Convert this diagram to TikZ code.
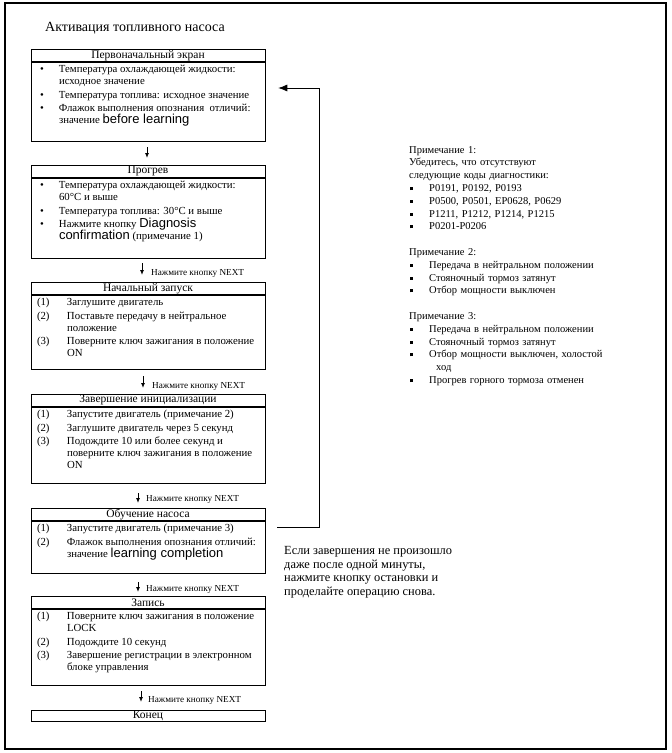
\documentclass[tikz,border=0pt]{standalone}
\usepackage{fontspec}
\setmainfont{Liberation Serif}
\newfontfamily\arl{Liberation Sans}
\usetikzlibrary{positioning,arrows.meta}
\newcommand{\en}[1]{{\arl\fontsize{13}{12}\selectfont #1}}
\newcommand{\bl}[1]{\par\noindent\hangindent=28pt\hangafter=1\makebox[28pt][l]{\hspace{9pt}\textbullet}#1}
\newcommand{\nm}[2]{\par\noindent\hangindent=36pt\hangafter=1\makebox[36pt][l]{\hspace{6pt}(#1)}#2}
\newcommand{\sq}[1]{\par\noindent\hangindent=20pt\hangafter=1\makebox[20pt][l]{\hspace{1pt}\rule[1.5pt]{3pt}{3pt}}#1}
\newcommand{\inbox}[2]{\parbox[t][#1][t]{234pt}{\raggedright\fontsize{10.8}{12}\selectfont
  \lineskiplimit=-20pt\parskip=1.5pt\vspace*{2pt}#2}}
\tikzset{
  head/.style ={draw, line width=.6pt, inner sep=0pt, minimum width=234pt, minimum height=12pt,
                anchor=north, font=\fontsize{11.5}{12}\selectfont},
  body/.style ={draw, line width=.6pt, inner sep=0pt, anchor=north},
  ln/.style   ={line width=.9pt, -{Latex[length=5pt,width=4pt]}},
  back/.style ={line width=.7pt, -{Latex[length=9pt,width=7pt]}},
  tag/.style  ={anchor=west, inner sep=0pt, font=\fontsize{9.2}{10}\selectfont},
  note/.style ={anchor=north west, inner sep=0pt, align=left},
}
\begin{document}
\begin{tikzpicture}[x=1pt,y=-1pt]
  \useasboundingbox (0,0) rectangle (672,753);
  \draw[line width=1.2pt] (5,3) rectangle (666,749);
  \node[anchor=west, inner sep=0pt, font=\fontsize{14}{16}\selectfont] (t0) at (45,28)
    {Активация топливного насоса};

  \node[head] (h1) at (148,49) {Первоначальный экран};
  \node[body] (b1) at (h1.south) {\inbox{79pt}{%
    \bl{Температура охлаждающей жидкости:\newline исходное значение}
    \bl{Температура топлива: исходное значение}
    \bl{Флажок выполнения опознания~ отличий:\newline значение \en{before learning}}}};

  \node[head] (h2) at (148,165) {Прогрев};
  \node[body] (b2) at (h2.south) {\inbox{80pt}{%
    \bl{Температура охлаждающей жидкости:\newline 60°C и выше}
    \bl{Температура топлива: 30°C и выше}
    \bl{Нажмите кнопку \en{Diagnosis}\newline \en{confirmation} (примечание 1)}}};

  \node[head] (h3) at (148,282) {Начальный запуск};
  \node[body] (b3) at (h3.south) {\inbox{74pt}{%
    \nm{1}{Заглушите двигатель}
    \nm{2}{Поставьте передачу в нейтральное\newline положение}
    \nm{3}{Поверните ключ зажигания в положение\newline ON}}};

  \node[head] (h4) at (148,394) {Завершение инициализации};
  \node[body] (b4) at (h4.south) {\inbox{76pt}{%
    \nm{1}{Запустите двигатель (примечание 2)}
    \nm{2}{Заглушите двигатель через 5 секунд}
    \nm{3}{Подождите 10 или более секунд и\newline поверните ключ зажигания в положение\newline ON}}};

  \node[head] (h5) at (148,508) {Обучение насоса};
  \node[body] (b5) at (h5.south) {\inbox{52pt}{%
    \nm{1}{Запустите двигатель (примечание 3)}
    \nm{2}{Флажок выполнения опознания отличий:\newline значение \en{learning completion}}}};

  \node[head] (h6) at (148,596) {Запись};
  \node[body] (b6) at (h6.south) {\inbox{76pt}{%
    \nm{1}{Поверните ключ зажигания в положение\newline LOCK}
    \nm{2}{Подождите 10 секунд}
    \nm{3}{Завершение регистрации в электронном\newline блоке управления}}};

  \node[head,minimum height=11pt] (h7) at (148,710) {Конец};

  \draw[ln,shorten <=6pt,shorten >=7pt] ([xshift=-1pt]b1.south) -- ([xshift=-1pt]h2.north);
  \draw[ln,shorten <=5pt,shorten >=7pt] ([xshift=-6pt]b2.south) -- ([xshift=-6pt]h3.north);
  \draw[ln,shorten <=7pt,shorten >=6pt] ([xshift=-5pt]b3.south) -- ([xshift=-5pt]h4.north);
  \draw[ln,shorten <=10pt,shorten >=5pt] ([xshift=-10pt]b4.south) -- ([xshift=-10pt]h5.north);
  \draw[ln,shorten <=9pt,shorten >=4pt] ([xshift=-10pt]b5.south) -- ([xshift=-10pt]h6.north);
  \draw[ln,shorten <=6pt,shorten >=8pt] ([xshift=-7pt]b6.south) -- ([xshift=-7pt]h7.north);

  \node[tag] (l2) at (151,273) {Нажмите кнопку NEXT};
  \node[tag] (l3) at (152,386) {Нажмите кнопку NEXT};
  \node[tag] (l4) at (146,499) {Нажмите кнопку NEXT};
  \node[tag] (l5) at (146,589) {Нажмите кнопку NEXT};
  \node[tag] (l6) at (148,700) {Нажмите кнопку NEXT};

  \coordinate (fb) at (319,527);
  \coordinate (fa) at (319,88);
  \draw[back,shorten <=12pt,shorten >=13pt] (b5.east |- fb) -- (fb) -- (fa) -- (b1.east |- fa);

  \node[note, text width=250pt, font=\fontsize{10.5}{12.8}\selectfont] (n1) at (409,146)
    {Примечание 1:\par
     Убедитесь, что отсутствуют\par
     следующие коды диагностики:
     \sq{P0191, P0192, P0193}
     \sq{P0500, P0501, EP0628, P0629}
     \sq{P1211, P1212, P1214, P1215}
     \sq{P0201-P0206}\par\vspace{12.8pt}
     Примечание 2:
     \sq{Передача в нейтральном положении}
     \sq{Стояночный тормоз затянут}
     \sq{Отбор мощности выключен}\par\vspace{12.8pt}
     Примечание 3:
     \sq{Передача в нейтральном положении}
     \sq{Стояночный тормоз затянут}
     \sq{Отбор мощности выключен, холостой\newline\hspace*{7pt}ход}
     \sq{Прогрев горного тормоза отменен}};

  \node[note, font=\fontsize{12.4}{13.8}\selectfont] (n4) at (284,546)
    {Если завершения не произошло\\
     даже после одной минуты,\\
     нажмите кнопку остановки и\\
     проделайте операцию снова.};
\end{tikzpicture}
\end{document}
